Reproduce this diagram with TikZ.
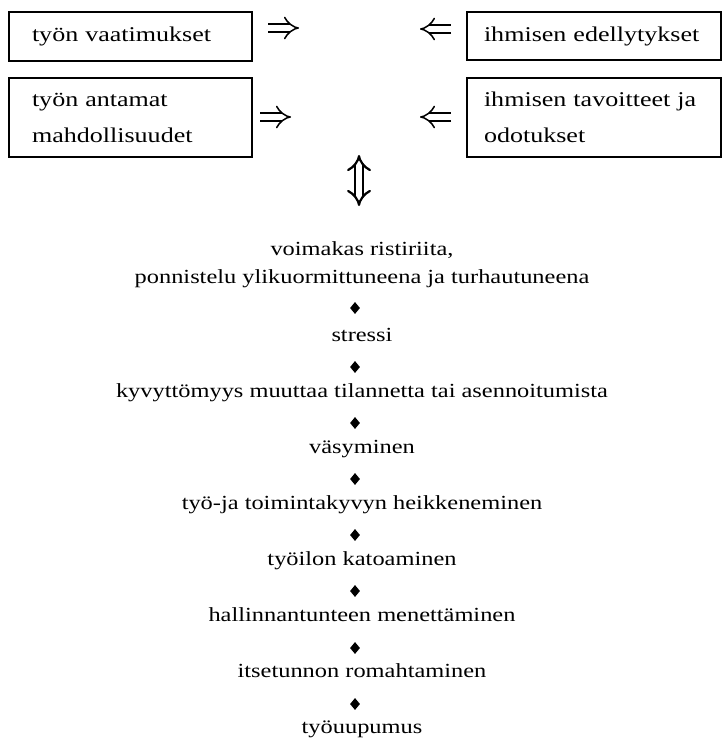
\documentclass[tikz,border=0pt]{standalone}
\usepackage{amsmath,amssymb}
\usepackage{fontspec}
\setmainfont{Liberation Serif}
\newfontfamily\boxfont{Liberation Serif}[FakeStretch=1.24]
\newfontfamily\chainfont{Liberation Serif}[FakeStretch=1.22]
\usepackage{xcolor}
\usetikzlibrary{calc,arrows.meta,shapes.geometric}
\definecolor{ink}{HTML}{000000}
\tikzset{
  box/.style={draw=ink, line width=1.4pt, align=left, inner ysep=0pt, font=\boxfont\fontsize{21}{36}\selectfont},
  imp/.style={draw=ink, line width=1.5pt, double, double distance=6.5pt, -{Implies}},
  lab/.style={text=ink, align=center, inner sep=0pt, font=\chainfont\fontsize{20}{28}\selectfont},
  dia/.style={diamond, fill=ink, inner sep=0pt, minimum width=10pt, minimum height=12pt},
}
\begin{document}
\begin{tikzpicture}[x=1pt,y=-1pt]
  \useasboundingbox (0,0) rectangle (723,746);
  % upper boxes
  \node[box, inner xsep=23pt, minimum width=243pt, minimum height=49pt, text width=197pt] (vaat) at (130.5,36.5) {työn vaatimukset};
  \node[box, inner xsep=17pt, minimum width=254pt, minimum height=48pt, text width=220pt] (edel) at (594,36) {ihmisen edellytykset};
  \node[box, inner xsep=23pt, minimum width=243pt, minimum height=79pt, text width=197pt] (mahd) at (130.5,117.5) {työn antamat\\mahdollisuudet};
  \node[box, inner xsep=17pt, minimum width=254pt, minimum height=79pt, text width=220pt] (tavo) at (594,117.5) {ihmisen tavoitteet ja\\odotukset};
  % arrows between the boxes
  \coordinate (r1a) at (268,28);
  \coordinate (r1b) at (299,28);
  \coordinate (l1a) at (451,29);
  \coordinate (l1b) at (420,29);
  \coordinate (r2a) at (260,117);
  \coordinate (r2b) at (291,117);
  \coordinate (l2a) at (451,117);
  \coordinate (l2b) at (420,117);
  \draw[imp] (r1a) -- (r1b);
  \draw[imp] (l1a) -- (l1b);
  \draw[imp] (r2a) -- (r2b);
  \draw[imp] (l2a) -- (l2b);
  % double arrow
  \coordinate (ua) at (359,155);
  \coordinate (ub) at (359,206);
  \draw[ink, line width=2.2pt, double, double distance=6pt, {Implies}-{Implies}] (ua) -- (ub);
  % chain
  \node[lab] (s0) at (362,265) {voimakas ristiriita,\\ponnistelu ylikuormittuneena ja turhautuneena};
  \node[dia] (d1) at (355,308) {};
  \node[lab, anchor=base] (s1) at (362,341) {stressi};
  \node[dia] (d2) at (355,367) {};
  \node[lab, anchor=base] (s2) at (362,397) {kyvyttömyys muuttaa tilannetta tai asennoitumista};
  \node[dia] (d3) at (355,423) {};
  \node[lab, anchor=base] (s3) at (362,453) {väsyminen};
  \node[dia] (d4) at (355,479) {};
  \node[lab, anchor=base] (s4) at (362,509) {työ-ja toimintakyvyn heikkeneminen};
  \node[dia] (d5) at (355,535) {};
  \node[lab, anchor=base] (s5) at (362,565) {työilon katoaminen};
  \node[dia] (d6) at (355,591) {};
  \node[lab, anchor=base] (s6) at (362,621) {hallinnantunteen menettäminen};
  \node[dia] (d7) at (355,648) {};
  \node[lab, anchor=base] (s7) at (362,677) {itsetunnon romahtaminen};
  \node[dia] (d8) at (355,704) {};
  \node[lab, anchor=base] (s8) at (362,733) {työuupumus};
\end{tikzpicture}
\end{document}
